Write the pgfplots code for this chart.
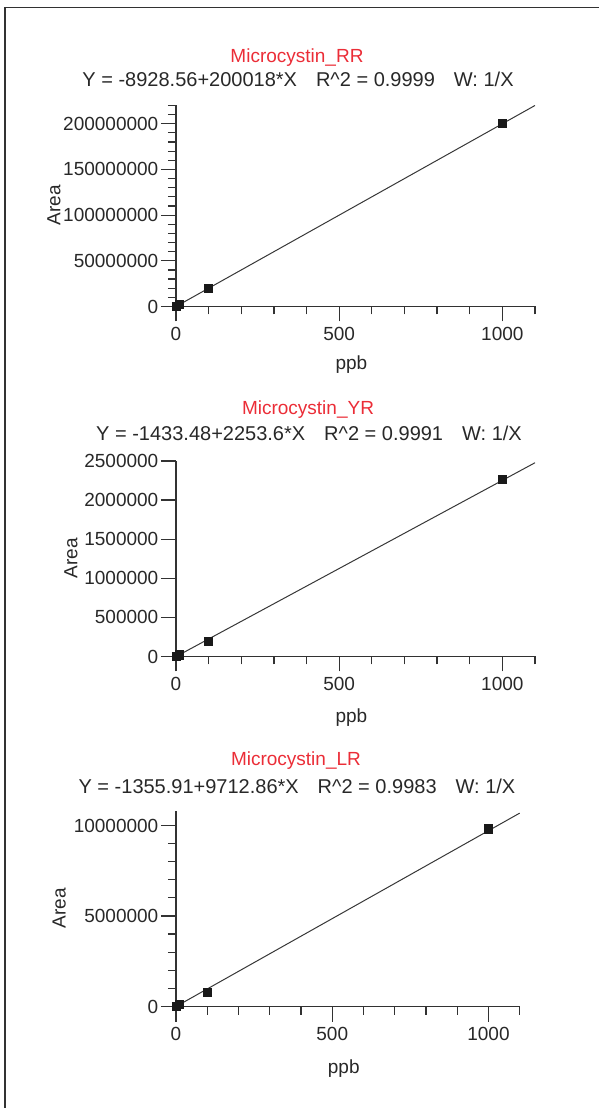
\documentclass[border=0pt]{standalone}
\usepackage{fontspec}
\setmainfont{Liberation Sans}
\usepackage{pgfplots}
\pgfplotsset{compat=1.18}
\definecolor{ttl}{RGB}{235,45,55}
\definecolor{txt}{RGB}{40,40,40}
\definecolor{axc}{RGB}{50,50,50}
\definecolor{mk}{RGB}{25,25,25}
\definecolor{lnc}{RGB}{55,55,55}
\pgfplotsset{
  cal/.style={
    scale only axis, axis lines=left,
    axis line style={-, line width=1.3pt, draw=axc},
    tick align=outside, tick style={line width=1.2pt, draw=axc},
    major tick length=15pt, minor tick length=8pt,
    xmin=0, xmax=1100, ymin=0, clip=false,
    xtick={0,500,1000},
    minor xtick={100,200,300,400,600,700,800,900,1100},
    tick label style={font=\fontsize{19}{22}\selectfont, text=txt,
      /pgf/number format/fixed, /pgf/number format/precision=0,
      /pgf/number format/1000 sep={}},
    yticklabel style={inner sep=2.5pt},
    xticklabel style={inner sep=6pt},
    scaled y ticks=false, scaled x ticks=false,
    /pgf/number format/assume math mode=true,
    label style={font=\fontsize{19}{22}\selectfont, text=txt},
    xlabel={ppb}, ylabel={Area},
    title style={anchor=base, text=ttl, font=\fontsize{19}{22}\selectfont, inner sep=0pt},
  },
  fit/.style={line width=1pt, draw=lnc},
  pts/.style={only marks, mark=square*, mark size=4.1pt, mark options={fill=mk, draw=mk, line width=0pt}},
}
\newcommand{\eqn}[3]{Y = #1\hspace{19pt}R\textasciicircum 2 = #2\hspace{19pt}#3}
\begin{document}
\begin{tikzpicture}
\path[use as bounding box] (0,0) rectangle (599pt,1108pt);
\draw[line width=1.5pt, draw=axc] (5pt,0pt) -- (5pt,1100.5pt) -- (599pt,1100.5pt);

% ---- Microcystin_RR
\begin{axis}[cal, at={(176pt,801.5pt)}, anchor=south west,
  width=359pt, height=201pt, ymax=220000000,
  ytick={0,50000000,100000000,150000000,200000000},
  minor ytick={10000000,20000000,30000000,40000000,60000000,70000000,80000000,90000000,110000000,120000000,130000000,140000000,160000000,170000000,180000000,190000000,210000000,220000000},
  title={Microcystin\_RR},
  title style={at={(axis description cs:0.337,1.182)}},
  xlabel style={at={(axis description cs:0.4886,-0.29)}, anchor=center},
  ylabel style={at={(axis description cs:-0.34,0.505)}, anchor=center},
]
\addplot[fit] coordinates {(0,-8929) (1100,220010871)};
\addplot[pts] coordinates {(1,200000) (10,2000000) (100,19800000) (1000,200000000)};
\node[anchor=base, font=\fontsize{20}{24}\selectfont, text=txt] at (axis description cs:0.340,1.092) {\eqn{-8928.56+200018*X}{0.9999}{W: 1/X}};
\end{axis}

% ---- Microcystin_YR
\begin{axis}[cal, at={(176pt,451.5pt)}, anchor=south west,
  width=359pt, height=195.5pt, ymax=2500000,
  ytick={0,500000,1000000,1500000,2000000,2500000},
  title={Microcystin\_YR},
  title style={at={(axis description cs:0.3677,1.208)}},
  xlabel style={at={(axis description cs:0.4886,-0.312)}, anchor=center},
  ylabel style={at={(axis description cs:-0.293,0.5023)}, anchor=center},
]
\addplot[fit] coordinates {(0,-1433) (1100,2477527)};
\addplot[pts] coordinates {(1,2000) (10,20000) (100,188000) (1000,2265000)};
\node[anchor=base, font=\fontsize{20}{24}\selectfont, text=txt] at (axis description cs:0.3705,1.1059) {\eqn{-1433.48+2253.6*X}{0.9991}{W: 1/X}};
\end{axis}

% ---- Microcystin_LR
\begin{axis}[cal, at={(176pt,101.5pt)}, anchor=south west,
  width=343.7pt, height=195.5pt, ymax=10800000,
  ytick={0,5000000,10000000},
  minor ytick={1000000,2000000,3000000,4000000,6000000,7000000,8000000,9000000},
  title={Microcystin\_LR},
  title style={at={(axis description cs:0.349,1.203)}},
  xlabel style={at={(axis description cs:0.488,-0.32)}, anchor=center},
  ylabel style={at={(axis description cs:-0.34,0.5023)}, anchor=center},
]
\addplot[fit] coordinates {(0,-1356) (1100,10682790)};
\addplot[pts] coordinates {(1,10000) (10,95000) (100,760000) (1000,9800000)};
\node[anchor=base, font=\fontsize{20}{24}\selectfont, text=txt] at (axis description cs:0.352,1.09) {\eqn{-1355.91+9712.86*X}{0.9983}{W: 1/X}};
\end{axis}
\end{tikzpicture}
\end{document}
